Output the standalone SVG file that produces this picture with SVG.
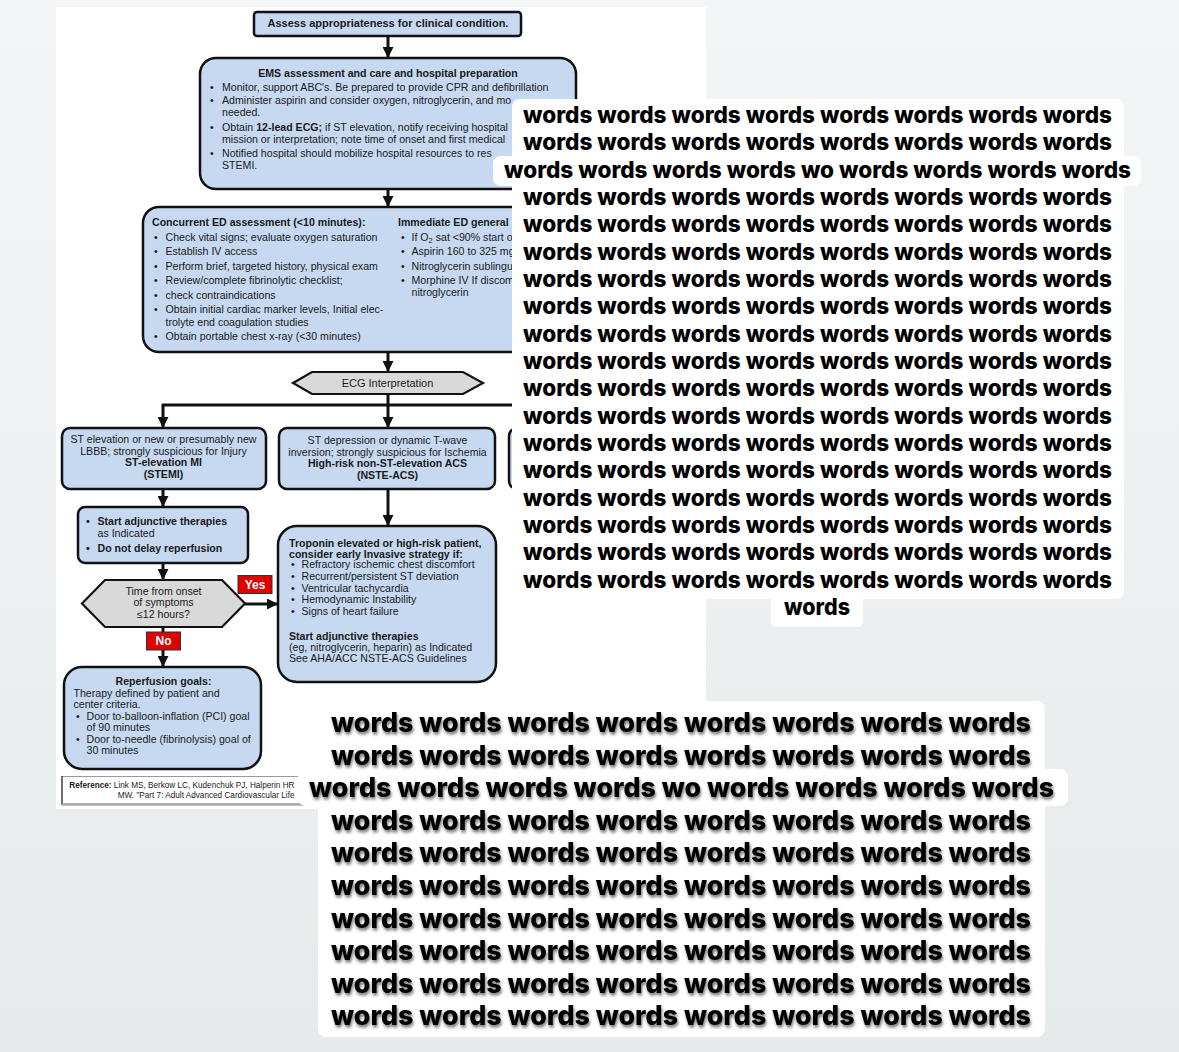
<svg xmlns="http://www.w3.org/2000/svg" width="1179" height="1052" viewBox="0 0 1179 1052">
<defs>
<linearGradient id="bg" x1="0" y1="0" x2="0" y2="1">
<stop offset="0" stop-color="#f4f5f6"/>
<stop offset="1" stop-color="#e7eaeb"/>
</linearGradient>
<marker id="ah" markerUnits="userSpaceOnUse" markerWidth="11" markerHeight="11" refX="10" refY="5.5" orient="auto">
<path d="M0,0 L11,5.5 L0,11 z" fill="#111"/>
</marker>
<filter id="sh" x="-5%" y="-30%" width="110%" height="170%">
<feDropShadow dx="1" dy="2.5" stdDeviation="1.6" flood-color="#000" flood-opacity="0.55"/>
</filter>
<style>
.box{fill:#c6d9f1;stroke:#111;stroke-width:2.5}
.hex{fill:#d9d9d9;stroke:#111;stroke-width:2.2}
.t{font-family:"Liberation Sans",Arial,sans-serif;font-size:10.6px;fill:#1a1a1a}
.b{font-weight:bold}
.c{text-anchor:middle}
.conn{stroke:#111;stroke-width:3;fill:none}
.lab{fill:#e00000;stroke:#333;stroke-width:1}
.lt{font-family:"Liberation Sans",Arial,sans-serif;font-size:12px;font-weight:bold;fill:#fff;text-anchor:middle}
.ov{fill:#fff}
.w1{font-family:Inter,"Open Sans",sans-serif;font-weight:800;font-size:23px;fill:#000;text-anchor:middle}
.w2{font-family:Inter,"Open Sans",sans-serif;font-weight:800;font-size:27.5px;fill:#000;text-anchor:middle;filter:url(#sh)}
.ref{font-family:"Liberation Sans",Arial,sans-serif;font-size:8.2px;fill:#1a1a1a;text-anchor:end}
</style>
</defs>
<rect width="1179" height="1052" fill="url(#bg)"/>
<rect x="56" y="7" width="650" height="802" fill="#fff"/>

<g id="connectors">
<path class="conn" d="M388,36 V57" marker-end="url(#ah)"/>
<path class="conn" d="M388,189 V206" marker-end="url(#ah)"/>
<path class="conn" d="M388,352 V371" marker-end="url(#ah)"/>
<path class="conn" d="M388,394 V427" marker-end="url(#ah)"/>
<path class="conn" d="M162,405 H620"/>
<path class="conn" d="M163,404 V427" marker-end="url(#ah)"/>
<path class="conn" d="M163,489 V506" marker-end="url(#ah)"/>
<path class="conn" d="M388,489 V525" marker-end="url(#ah)"/>
<path class="conn" d="M163,563 V579" marker-end="url(#ah)"/>
<path class="conn" d="M245,604 H277" marker-end="url(#ah)"/>
<path class="conn" d="M163,627 V666" marker-end="url(#ah)"/>
</g>

<g id="assess">
<rect class="box" x="254" y="12" width="267" height="24" rx="3"/>
<text class="t b c" x="388" y="27" style="font-size:11px">Assess appropriateness for clinical condition.</text>
</g>

<g id="ems">
<rect class="box" x="200" y="58" width="376" height="131" rx="16"/>
<text class="t b c" x="388" y="76.5">EMS assessment and care and hospital preparation</text>
<text class="t" x="210" y="90.5">•</text><text class="t" x="222" y="90.5">Monitor, support ABC's. Be prepared to provide CPR and defibrillation</text>
<text class="t" x="210" y="104">•</text><text class="t" x="222" y="104">Administer aspirin and consider oxygen, nitroglycerin, and mo</text>
<text class="t" x="222" y="116">needed.</text>
<text class="t" x="210" y="130.5">•</text><text class="t" x="222" y="130.5">Obtain <tspan class="b">12-lead ECG;</tspan> if ST elevation, notify receiving hospital</text>
<text class="t" x="222" y="142.5">mission or interpretation; note time of onset and first medical</text>
<text class="t" x="210" y="156.5">•</text><text class="t" x="222" y="156.5">Notified hospital should mobilize hospital resources to res</text>
<text class="t" x="222" y="168.5">STEMI.</text>
</g>

<g id="concurrent">
<rect class="box" x="143" y="207" width="490" height="145" rx="16"/>
<text class="t b" x="152" y="225.7">Concurrent ED assessment (&lt;10 minutes):</text>
<text class="t" x="154" y="240.7">•</text><text class="t" x="165.5" y="240.7">Check vital signs; evaluate oxygen saturation</text>
<text class="t" x="154" y="255.2">•</text><text class="t" x="165.5" y="255.2">Establish IV access</text>
<text class="t" x="154" y="269.7">•</text><text class="t" x="165.5" y="269.7">Perform brief, targeted history, physical exam</text>
<text class="t" x="154" y="284.2">•</text><text class="t" x="165.5" y="284.2">Review/complete fibrinolytic checklist;</text>
<text class="t" x="154" y="298.7">•</text><text class="t" x="165.5" y="298.7">check contraindications</text>
<text class="t" x="154" y="313.2">•</text><text class="t" x="165.5" y="313.2">Obtain initial cardiac marker levels, Initial elec-</text>
<text class="t" x="165.5" y="325.5">trolyte end coagulation studies</text>
<text class="t" x="154" y="340">•</text><text class="t" x="165.5" y="340">Obtain portable chest x-ray (&lt;30 minutes)</text>
<text class="t b" x="398" y="225.7">Immediate ED general</text>
<text class="t" x="401" y="240.7">•</text><text class="t" x="411.5" y="240.7">If O<tspan font-size="7.5" dy="2">2</tspan><tspan dy="-2"> sat &lt;90% start o</tspan></text>
<text class="t" x="401" y="255.2">•</text><text class="t" x="411.5" y="255.2">Aspirin 160 to 325 mg</text>
<text class="t" x="401" y="269.7">•</text><text class="t" x="411.5" y="269.7">Nitroglycerin sublingu</text>
<text class="t" x="401" y="284.2">•</text><text class="t" x="411.5" y="284.2">Morphine IV If discom</text>
<text class="t" x="411.5" y="296">nitroglycerin</text>
</g>

<g id="ecg">
<polygon class="hex" points="293,383 312,372 463,372 483,383 463,394 312,394"/>
<text class="t c" x="387.5" y="387" style="font-size:11px">ECG Interpretation</text>
</g>

<g id="stemi">
<rect class="box" x="62" y="428" width="204" height="61" rx="8"/>
<text class="t c" x="163.5" y="443.3">ST elevation or new or presumably new</text>
<text class="t c" x="163.5" y="454.8">LBBB; strongly suspicious for Injury</text>
<text class="t b c" x="163.5" y="466.3">ST-elevation MI</text>
<text class="t b c" x="163.5" y="477.8">(STEMI)</text>
</g>

<g id="nste">
<rect class="box" x="279" y="428" width="216" height="61" rx="8"/>
<text class="t c" x="387.5" y="444">ST depression or dynamic T-wave</text>
<text class="t c" x="387.5" y="455.7">inversion; strongly suspicious for Ischemia</text>
<text class="t b c" x="387.5" y="467.4">High-risk non-ST-elevation ACS</text>
<text class="t b c" x="387.5" y="479">(NSTE-ACS)</text>
</g>

<g id="third">
<rect class="box" x="509" y="428" width="200" height="61" rx="8"/>
</g>

<g id="adjunctive">
<rect class="box" x="78" y="507" width="170" height="56" rx="7"/>
<text class="t b" x="86" y="525">•</text><text class="t b" x="97.5" y="525">Start adjunctive therapies</text>
<text class="t" x="97.5" y="536.7">as Indicated</text>
<text class="t b" x="86" y="551.5">•</text><text class="t b" x="97.5" y="551.5">Do not delay reperfusion</text>
</g>

<g id="time">
<polygon class="hex" points="82,603.5 105,580 222,580 245,603.5 222,627 105,627"/>
<text class="t c" x="163.5" y="595">Time from onset</text>
<text class="t c" x="163.5" y="606.3">of symptoms</text>
<text class="t c" x="163.5" y="617.6">≤12 hours?</text>
</g>

<g id="yes">
<rect class="lab" x="238" y="575.5" width="34" height="18"/>
<text class="lt" x="255" y="588.7">Yes</text>
</g>

<g id="no">
<rect class="lab" x="146.5" y="632" width="34" height="18"/>
<text class="lt" x="163.5" y="645.2">No</text>
</g>

<g id="troponin">
<rect class="box" x="278" y="526" width="218" height="156" rx="19"/>
<text class="t b" x="289" y="546.5">Troponin elevated or high-risk patient,</text>
<text class="t b" x="289" y="557.8">consider early Invasive strategy if:</text>
<text class="t" x="291" y="568.3">•</text><text class="t" x="301.5" y="568.3">Refractory ischemic chest discomfort</text>
<text class="t" x="291" y="580">•</text><text class="t" x="301.5" y="580">Recurrent/persistent ST deviation</text>
<text class="t" x="291" y="591.7">•</text><text class="t" x="301.5" y="591.7">Ventricular tachycardia</text>
<text class="t" x="291" y="603.4">•</text><text class="t" x="301.5" y="603.4">Hemodynamic Instability</text>
<text class="t" x="291" y="615.1">•</text><text class="t" x="301.5" y="615.1">Signs of heart failure</text>
<text class="t b" x="289" y="639.5">Start adjunctive therapies</text>
<text class="t" x="289" y="650.9">(eg, nitroglycerin, heparin) as Indicated</text>
<text class="t" x="289" y="662.3">See AHA/ACC NSTE-ACS Guidelines</text>
</g>

<g id="reperfusion">
<rect class="box" x="64" y="667" width="197" height="102" rx="18"/>
<text class="t b c" x="163.5" y="685">Reperfusion goals:</text>
<text class="t" x="73.5" y="696.5">Therapy defined by patient and</text>
<text class="t" x="73.5" y="708">center criteria.</text>
<text class="t" x="76" y="719.5">•</text><text class="t" x="86.5" y="719.5">Door to-balloon-inflation (PCI) goal</text>
<text class="t" x="86.5" y="731">of 90 minutes</text>
<text class="t" x="76" y="742.5">•</text><text class="t" x="86.5" y="742.5">Door to-needle (fibrinolysis) goal of</text>
<text class="t" x="86.5" y="754">30 minutes</text>
</g>

<g id="reference">
<rect x="62" y="776.5" width="250" height="27.5" fill="#fff" stroke="#999" stroke-width="1"/>
<line x1="62" y1="776" x2="62" y2="805" stroke="#333" stroke-width="1.2"/>
<line x1="62" y1="804.5" x2="312" y2="804.5" stroke="#aaa" stroke-width="2.5"/>
<text class="ref" x="294.5" y="788"><tspan font-weight="bold">Reference:</tspan> Link MS, Berkow LC, Kudenchuk PJ, Halperin HR</text>
<text class="ref" x="294.5" y="797.5">MW. "Part 7: Adult Advanced Cardiovascular Life</text>
</g>

<g id="overlay-top">
<rect class="ov" x="512" y="99" width="612" height="500" rx="8"/>
<rect class="ov" x="493" y="156" width="648" height="30" rx="8"/>
<rect class="ov" x="771" y="592" width="92" height="35" rx="6"/>
<text class="w1" x="817.5" y="123" textLength="589" lengthAdjust="spacingAndGlyphs">words words words words words words words words</text>
<text class="w1" x="817.5" y="150.3" textLength="589" lengthAdjust="spacingAndGlyphs">words words words words words words words words</text>
<text class="w1" x="817.5" y="177.7" textLength="627" lengthAdjust="spacingAndGlyphs">words words words words wo words words words words</text>
<text class="w1" x="817.5" y="205" textLength="589" lengthAdjust="spacingAndGlyphs">words words words words words words words words</text>
<text class="w1" x="817.5" y="232.3" textLength="589" lengthAdjust="spacingAndGlyphs">words words words words words words words words</text>
<text class="w1" x="817.5" y="259.7" textLength="589" lengthAdjust="spacingAndGlyphs">words words words words words words words words</text>
<text class="w1" x="817.5" y="287" textLength="589" lengthAdjust="spacingAndGlyphs">words words words words words words words words</text>
<text class="w1" x="817.5" y="314.3" textLength="589" lengthAdjust="spacingAndGlyphs">words words words words words words words words</text>
<text class="w1" x="817.5" y="341.7" textLength="589" lengthAdjust="spacingAndGlyphs">words words words words words words words words</text>
<text class="w1" x="817.5" y="369" textLength="589" lengthAdjust="spacingAndGlyphs">words words words words words words words words</text>
<text class="w1" x="817.5" y="396.3" textLength="589" lengthAdjust="spacingAndGlyphs">words words words words words words words words</text>
<text class="w1" x="817.5" y="423.7" textLength="589" lengthAdjust="spacingAndGlyphs">words words words words words words words words</text>
<text class="w1" x="817.5" y="451" textLength="589" lengthAdjust="spacingAndGlyphs">words words words words words words words words</text>
<text class="w1" x="817.5" y="478.3" textLength="589" lengthAdjust="spacingAndGlyphs">words words words words words words words words</text>
<text class="w1" x="817.5" y="505.7" textLength="589" lengthAdjust="spacingAndGlyphs">words words words words words words words words</text>
<text class="w1" x="817.5" y="533" textLength="589" lengthAdjust="spacingAndGlyphs">words words words words words words words words</text>
<text class="w1" x="817.5" y="560.3" textLength="589" lengthAdjust="spacingAndGlyphs">words words words words words words words words</text>
<text class="w1" x="817.5" y="587.7" textLength="589" lengthAdjust="spacingAndGlyphs">words words words words words words words words</text>
<text class="w1" x="817" y="615" textLength="66" lengthAdjust="spacingAndGlyphs">words</text>
</g>

<g id="overlay-bottom">
<rect class="ov" x="318" y="701" width="727" height="336" rx="8"/>
<rect class="ov" x="298" y="769" width="770" height="37" rx="8"/>
<text class="w2" x="681" y="732" textLength="700" lengthAdjust="spacingAndGlyphs">words words words words words words words words</text>
<text class="w2" x="681" y="764.6" textLength="700" lengthAdjust="spacingAndGlyphs">words words words words words words words words</text>
<text class="w2" x="681.5" y="797.2" textLength="745" lengthAdjust="spacingAndGlyphs">words words words words wo words words words words</text>
<text class="w2" x="681" y="829.8" textLength="700" lengthAdjust="spacingAndGlyphs">words words words words words words words words</text>
<text class="w2" x="681" y="862.4" textLength="700" lengthAdjust="spacingAndGlyphs">words words words words words words words words</text>
<text class="w2" x="681" y="895" textLength="700" lengthAdjust="spacingAndGlyphs">words words words words words words words words</text>
<text class="w2" x="681" y="927.6" textLength="700" lengthAdjust="spacingAndGlyphs">words words words words words words words words</text>
<text class="w2" x="681" y="960.2" textLength="700" lengthAdjust="spacingAndGlyphs">words words words words words words words words</text>
<text class="w2" x="681" y="992.8" textLength="700" lengthAdjust="spacingAndGlyphs">words words words words words words words words</text>
<text class="w2" x="681" y="1025.4" textLength="700" lengthAdjust="spacingAndGlyphs">words words words words words words words words</text>
</g>
</svg>
